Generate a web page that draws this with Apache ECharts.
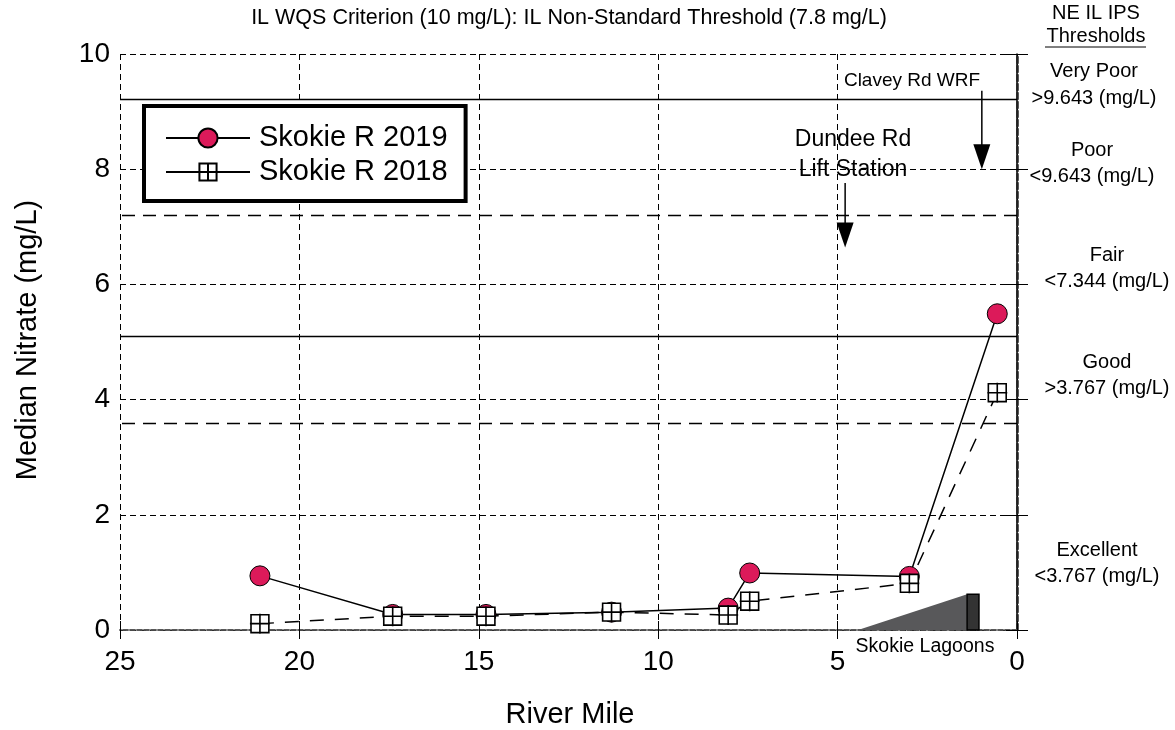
<!DOCTYPE html>
<html>
<head>
<meta charset="utf-8">
<script src="https://cdn.jsdelivr.net/npm/echarts@6/dist/echarts.min.js"></script>
<style>
  html, body { margin: 0; padding: 0; background: #fff; }
  #chart { width: 1175px; height: 730px; }
</style>
</head>
<body>
<div id="chart"></div>
<script>
// Sampling stations along the Skokie River (river mile) and median nitrate (mg/L)
const stationMiles = [21.1, 17.4, 14.8, 11.3, 8.05, 7.45, 3.0, 0.55];
const nitrate2019 = [0.94, 0.27, 0.27, 0.31, 0.38, 0.99, 0.93, 5.49];
const nitrate2018 = [0.11, 0.24, 0.24, 0.31, 0.26, 0.50, 0.81, 4.12];

// Reference threshold lines (mg/L) and their dash styles
const thresholdValues = [9.22, 7.2, 5.1, 3.59];
const thresholdKinds = ['solid', 'long', 'solid', 'long'];

// Skokie Lagoons reach (river mile) and drawn height (mg/L units)
const lagoonStart = 4.43;
const lagoonDam = 1.39;
const lagoonOutlet = 1.06;
const lagoonHeight = 0.62;

// Facility arrows: river mile, top of shaft, tip (mg/L units)
const arrowMiles = [0.98, 4.79];
const arrowTops = [9.36, 7.76];
const arrowTips = [8.0, 6.64];

// Axis ticks
const xTicks = { min: 0, max: 25, step: 5 };
const yTicks = { min: 0, max: 10, step: 2 };

const FONT = '"Liberation Sans", Arial, sans-serif';
const squareCross = 'path://M0,0 L10,0 L10,10 L0,10 Z M5,-0.6 L5,10.6 M-0.6,5 L10.6,5';

const chart = echarts.init(document.getElementById('chart'), null, { renderer: 'canvas' });

const dashFor = k => (k === 'long' ? [13, 8] : 'solid');

const option = {
  animation: false,
  backgroundColor: '#ffffff',
  textStyle: { fontFamily: FONT, color: '#000' },
  grid: { left: 120, right: 158, top: 54, bottom: 100 },
  legend: {
    data: ['Skokie R 2019', 'Skokie R 2018'],
    orient: 'vertical',
    left: 144,
    top: 106,
    padding: [17, 18, 14, 21],
    borderColor: '#000',
    borderWidth: 4,
    backgroundColor: '#fff',
    itemWidth: 84,
    itemHeight: 24,
    itemGap: 4,
    selectedMode: false,
    lineStyle: { type: 'solid' },
    textStyle: { fontFamily: FONT, fontSize: 29, color: '#000', lineHeight: 30, padding: [0, 0, 0, 4] }
  },
  xAxis: [{
    type: 'value', inverse: true,
    min: xTicks.min, max: xTicks.max, interval: xTicks.step,
    position: 'bottom',
    axisLine: { show: true, lineStyle: { color: '#333', width: 1.5, type: [5, 2] } },
    axisTick: { show: true, inside: true, length: 9, lineStyle: { color: '#000', width: 1 } },
    axisLabel: { fontFamily: FONT, fontSize: 28, color: '#000', margin: 18 },
    splitLine: { show: true, lineStyle: { color: '#000', width: 1, type: [6, 4] } }
  }, {
    type: 'value', inverse: true,
    min: xTicks.min, max: xTicks.max, interval: xTicks.step,
    position: 'top',
    axisLine: { show: true, lineStyle: { color: '#555', width: 1.5, type: [5, 2] } },
    axisTick: { show: true, inside: true, length: 9, lineStyle: { color: '#000', width: 1 } },
    axisLabel: { show: false },
    splitLine: { show: false }
  }],
  yAxis: [{
    type: 'value',
    min: yTicks.min, max: yTicks.max, interval: yTicks.step,
    position: 'left',
    axisLine: { show: true, lineStyle: { color: '#000', width: 1.5 } },
    axisTick: { show: true, inside: true, length: 11, lineStyle: { color: '#000', width: 1 } },
    axisLabel: { fontFamily: FONT, fontSize: 28, color: '#000', margin: 10 },
    splitLine: { show: true, lineStyle: { color: '#000', width: 1, type: [6, 4] } }
  }, {
    type: 'value',
    min: yTicks.min, max: yTicks.max, interval: yTicks.step,
    position: 'right',
    axisLine: { show: true, lineStyle: { color: '#222', width: 2.5, type: [6, 3] } },
    axisTick: { show: true, inside: true, length: 11, lineStyle: { color: '#000', width: 1 } },
    axisLabel: { show: false },
    splitLine: { show: false }
  }],
  series: [
    {
      // Skokie Lagoons wedge and outlet structure
      type: 'custom',
      name: 'Skokie Lagoons',
      xAxisIndex: 0, yAxisIndex: 0,
      silent: true,
      z: 1,
      data: [[lagoonStart, lagoonDam, lagoonOutlet, lagoonHeight]],
      renderItem: (params, api) => {
        const a = api.coord([api.value(0), 0]);
        const b = api.coord([api.value(1), api.value(3)]);
        const c = api.coord([api.value(1), 0]);
        const d = api.coord([api.value(2), api.value(3)]);
        return {
          type: 'group',
          children: [
            { type: 'polygon', shape: { points: [a, b, c] }, style: { fill: '#58585a', stroke: null } },
            { type: 'rect', shape: { x: b[0], y: b[1], width: d[0] - b[0], height: c[1] - b[1] },
              style: { fill: '#333333', stroke: '#000', lineWidth: 1.5 } }
          ]
        };
      }
    },
    {
      // Facility arrows
      type: 'custom',
      name: 'Facilities',
      xAxisIndex: 0, yAxisIndex: 0,
      silent: true,
      z: 3,
      data: arrowMiles.map((m, i) => [m, arrowTops[i], arrowTips[i]]),
      renderItem: (params, api) => {
        const top = api.coord([api.value(0), api.value(1)]);
        const tip = api.coord([api.value(0), api.value(2)]);
        const headLen = 25, halfW = 8.5;
        return {
          type: 'group',
          children: [
            { type: 'line', shape: { x1: top[0], y1: top[1], x2: tip[0], y2: tip[1] - headLen + 2 },
              style: { stroke: '#000', lineWidth: 1.5 } },
            { type: 'polygon',
              shape: { points: [[tip[0] - halfW, tip[1] - headLen], [tip[0] + halfW, tip[1] - headLen], [tip[0], tip[1]]] },
              style: { fill: '#000' } }
          ]
        };
      }
    },
    {
      name: 'Skokie R 2019',
      type: 'line',
      data: stationMiles.map((m, i) => [m, nitrate2019[i]]),
      symbol: 'circle',
      symbolSize: 20,
      z: 4,
      lineStyle: { color: '#000', width: 1.5, type: 'solid' },
      itemStyle: { color: '#dc1a5a', borderColor: '#000', borderWidth: 1 },
      markLine: {
        silent: true,
        symbol: 'none',
        label: { show: false },
        z: 2,
        data: thresholdValues.map((v, i) => ({
          yAxis: v,
          lineStyle: { color: '#000', width: 1.3, type: dashFor(thresholdKinds[i]) }
        }))
      }
    },
    {
      name: 'Skokie R 2018',
      type: 'line',
      data: stationMiles.map((m, i) => [m, nitrate2018[i]]),
      symbol: squareCross,
      symbolSize: 20,
      symbolKeepAspect: true,
      z: 5,
      lineStyle: { color: '#000', width: 1.5, type: [14, 11] },
      itemStyle: { color: '#ffffff', borderColor: '#000', borderWidth: 1.6 }
    }
  ],
  graphic: [
    { type: 'text', x: 569, y: 18, z: 10,
      style: { text: 'IL WQS Criterion (10 mg/L): IL Non-Standard Threshold (7.8 mg/L)', font: '21.5px ' + FONT, fill: '#000', align: 'center', verticalAlign: 'middle' } },
    // axis titles
    { type: 'text', x: 570, y: 715, z: 10,
      style: { text: 'River Mile', font: '29px ' + FONT, fill: '#000', align: 'center', verticalAlign: 'middle' } },
    { type: 'text', x: 28, y: 340, rotation: Math.PI / 2, z: 10,
      style: { text: 'Median Nitrate (mg/L)', font: '29px ' + FONT, fill: '#000', align: 'center', verticalAlign: 'middle' } },
    // facility and reach labels
    { type: 'text', x: 912, y: 81, z: 10,
      style: { text: 'Clavey Rd WRF', font: '19px ' + FONT, fill: '#000', align: 'center', verticalAlign: 'middle' } },
    { type: 'text', x: 853, y: 155, z: 10,
      style: { text: 'Dundee Rd\nLift Station', font: '23px ' + FONT, lineHeight: 30, fill: '#000', align: 'center', verticalAlign: 'middle' } },
    { type: 'text', x: 925, y: 647, z: 10,
      style: { text: 'Skokie Lagoons', font: '19.5px ' + FONT, fill: '#000', align: 'center', verticalAlign: 'middle' } },
    // NE IL IPS threshold classes
    { type: 'text', x: 1096, y: 13, z: 10,
      style: { text: 'NE IL IPS', font: '20px ' + FONT, fill: '#000', align: 'center', verticalAlign: 'middle' } },
    { type: 'text', x: 1096, y: 36, z: 10,
      style: { text: 'Thresholds', font: '20px ' + FONT, fill: '#000', align: 'center', verticalAlign: 'middle' } },
    { type: 'line', z: 10, shape: { x1: 1045, y1: 47, x2: 1146, y2: 47 }, style: { stroke: '#000', lineWidth: 1 } },
    { type: 'text', x: 1094, y: 85, z: 10,
      style: { text: 'Very Poor\n>9.643 (mg/L)', font: '20px ' + FONT, lineHeight: 27, fill: '#000', align: 'center', verticalAlign: 'middle' } },
    { type: 'text', x: 1092, y: 163, z: 10,
      style: { text: 'Poor\n<9.643 (mg/L)', font: '20px ' + FONT, lineHeight: 26, fill: '#000', align: 'center', verticalAlign: 'middle' } },
    { type: 'text', x: 1107, y: 268, z: 10,
      style: { text: 'Fair\n<7.344 (mg/L)', font: '20px ' + FONT, lineHeight: 26, fill: '#000', align: 'center', verticalAlign: 'middle' } },
    { type: 'text', x: 1107, y: 375, z: 10,
      style: { text: 'Good\n>3.767 (mg/L)', font: '20px ' + FONT, lineHeight: 26, fill: '#000', align: 'center', verticalAlign: 'middle' } },
    { type: 'text', x: 1097, y: 563, z: 10,
      style: { text: 'Excellent\n<3.767 (mg/L)', font: '20px ' + FONT, lineHeight: 26, fill: '#000', align: 'center', verticalAlign: 'middle' } }
  ]
};

chart.setOption(option);
</script>
</body>
</html>
